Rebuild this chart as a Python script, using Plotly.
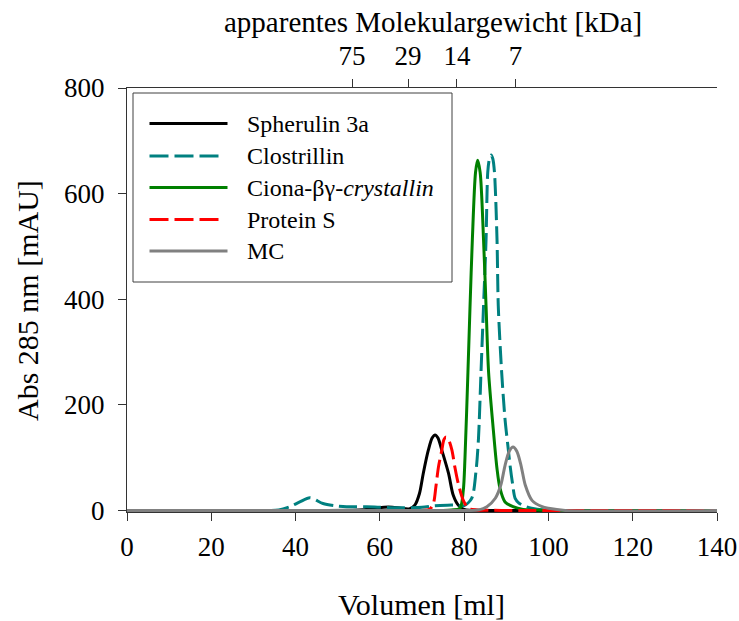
import plotly.graph_objects as go

# ---- data ----
sph_x = [0, 20, 40, 55, 58, 61, 63, 65, 67, 68.3, 69.4, 70.3, 71.5, 72.4, 73.1, 73.8, 74.7, 76.3, 77.4, 78.6, 80, 85, 100, 140]
sph_y = [0, 0, 0, 1, 3, 6, 6, 4, 3, 10, 32, 70, 114, 137, 143, 137, 114, 70, 29, 10, 2, 0, 0, 0]

clo_x = [0, 30, 36, 38.6, 41.0, 43.4, 46.5, 49.3, 52.1, 56.9, 60, 65, 70, 73, 76, 78, 80, 81.8, 82.8, 83.4, 84.0,
         84.6, 85.2, 85.6, 86.0, 86.4, 86.8, 87.2, 87.8, 88.1, 88.9, 89.7, 90.5, 90.9, 91.5, 92.1, 93.0, 94.1, 96, 100, 140]
clo_y = [0, 0, 1, 7, 16, 24, 13, 9, 7, 7, 6, 5, 6, 9, 10, 10, 9, 23, 73, 136, 262,
         387, 513, 640, 666, 673, 666, 640, 513, 387, 262, 173, 114, 85, 50, 23, 14, 9, 4, 0, 0]

cio_x = [0, 40, 60, 75, 77, 79.0, 79.8, 80.2, 80.9, 81.4, 81.95, 82.7, 83.2, 83.8, 84.6, 85.2, 85.8, 86.9, 87.8, 88.5, 89.7, 91.6, 94, 100, 140]
cio_y = [0, 0, 0, 0, 1, 4, 38, 100, 262, 387, 513, 640, 663, 640, 513, 387, 262, 155, 79, 42, 16, 7, 2, 0, 0]

prs_x = [0, 40, 60, 70, 71.8, 72.7, 73.3, 73.9, 74.7, 75.2, 75.7, 76.3, 77.1, 77.8, 78.6, 79.8, 81.0, 83, 90, 140]
prs_y = [0, 0, 0, 0, 2, 13, 45, 82, 114, 134, 139, 134, 114, 82, 51, 19, 4, 1, 0, 0]

mc_x = [0, 40, 80, 83.5, 85.4, 87.4, 88.7, 89.7, 90.7, 91.6, 92.5, 93.5, 94.5, 96.1, 98.5, 100, 104, 140]
mc_y = [0, 0, 0, 1, 7, 23, 48, 85, 112, 120, 112, 85, 48, 19, 7, 4, 0, 0]

series_names = ["Spherulin 3a", "Clostrillin", "Ciona-βγ-<i>crystallin</i>", "Protein S", "MC"]
series_colors = ["#000000", "#008080", "#008000", "#FF0000", "#808080"]
series_dashed = [False, True, False, True, False]
series_data = [(sph_x, sph_y), (clo_x, clo_y), (cio_x, cio_y), (prs_x, prs_y), (mc_x, mc_y)]

mw_labels = ["75", "29", "14", "7"]
mw_positions = [53.4, 66.7, 78.3, 92.2]

x_ticks = [0, 20, 40, 60, 80, 100, 120, 140]
y_ticks = [0, 200, 400, 600, 800]

FONT = "Liberation Serif, Times New Roman, serif"
W, H = 739, 621
ML, MR, MT, MB = 127, 22, 88, 109
PW, PH = W - ML - MR, H - MT - MB
DASH = "18px,6px"


def px(x):
    return (x - ML) / PW


def py(y):
    return (H - MB - y) / PH


fig = go.Figure()
for (xs, ys), name, col, dashed in zip(series_data, series_names, series_colors, series_dashed):
    fig.add_trace(go.Scatter(x=xs, y=ys, mode="lines", name=name, showlegend=False,
                             line=dict(color=col, width=3, dash=DASH if dashed else "solid",
                                       shape="spline", smoothing=0.8)))

# invisible trace for top axis
fig.add_trace(go.Scatter(x=[0, 140], y=[0, 0], xaxis="x2", mode="lines",
                         line=dict(width=0), showlegend=False, hoverinfo="skip"))

axis_common = dict(showline=True, linecolor="#333333", linewidth=1, ticks="outside",
                   ticklen=8, tickcolor="#333333", showgrid=False, zeroline=False, automargin=False,
                   tickfont=dict(family=FONT, size=27, color="black"))

shapes = [dict(type="rect", xref="paper", yref="paper", x0=px(133), x1=px(452), y0=py(282), y1=py(93),
               line=dict(color="#404040", width=1), fillcolor="white", layer="above")]
annotations = []
row_y = [123.5, 156, 187.5, 219.5, 251]
for ry, name, col, dashed in zip(row_y, series_names, series_colors, series_dashed):
    shapes.append(dict(type="line", xref="paper", yref="paper", x0=px(149.5), x1=px(218.5 if dashed else 227.5),
                       y0=py(ry), y1=py(ry),
                       line=dict(color=col, width=3, dash="19px,6px" if dashed else "solid"), layer="above"))
    annotations.append(dict(text=name, xref="paper", yref="paper", x=px(245), y=py(ry), xanchor="left",
                            yanchor="middle", showarrow=False, font=dict(family=FONT, size=24, color="black")))

annotations += [
    dict(text="apparentes Molekulargewicht [kDa]", xref="paper", yref="paper", x=px(433), y=py(22),
         showarrow=False, xanchor="center", yanchor="middle", font=dict(family=FONT, size=29, color="black")),
    dict(text="Volumen [ml]", xref="paper", yref="paper", x=px(421), y=py(604),
         showarrow=False, xanchor="center", yanchor="middle", font=dict(family=FONT, size=30, color="black")),
    dict(text="Abs 285 nm [mAU]", xref="paper", yref="paper", x=px(27), y=py(301), textangle=-90,
         showarrow=False, xanchor="center", yanchor="middle", font=dict(family=FONT, size=30, color="black")),
]

fig.update_layout(
    width=W, height=H,
    margin=dict(l=ML, r=MR, t=MT, b=MB),
    paper_bgcolor="white", plot_bgcolor="white",
    font=dict(family=FONT, color="black"),
    xaxis=dict(range=[0, 140], tickvals=x_ticks, ticklabelstandoff=3, **axis_common),
    xaxis2=dict(range=[0, 140], overlaying="x", side="top", tickvals=mw_positions, ticktext=mw_labels,
                ticklabelstandoff=3, **axis_common),
    yaxis=dict(range=[-3, 800], tickvals=y_ticks, ticklabelstandoff=8, **axis_common),
    showlegend=False,
    shapes=shapes,
    annotations=annotations,
)

fig.write_html("out.html")
